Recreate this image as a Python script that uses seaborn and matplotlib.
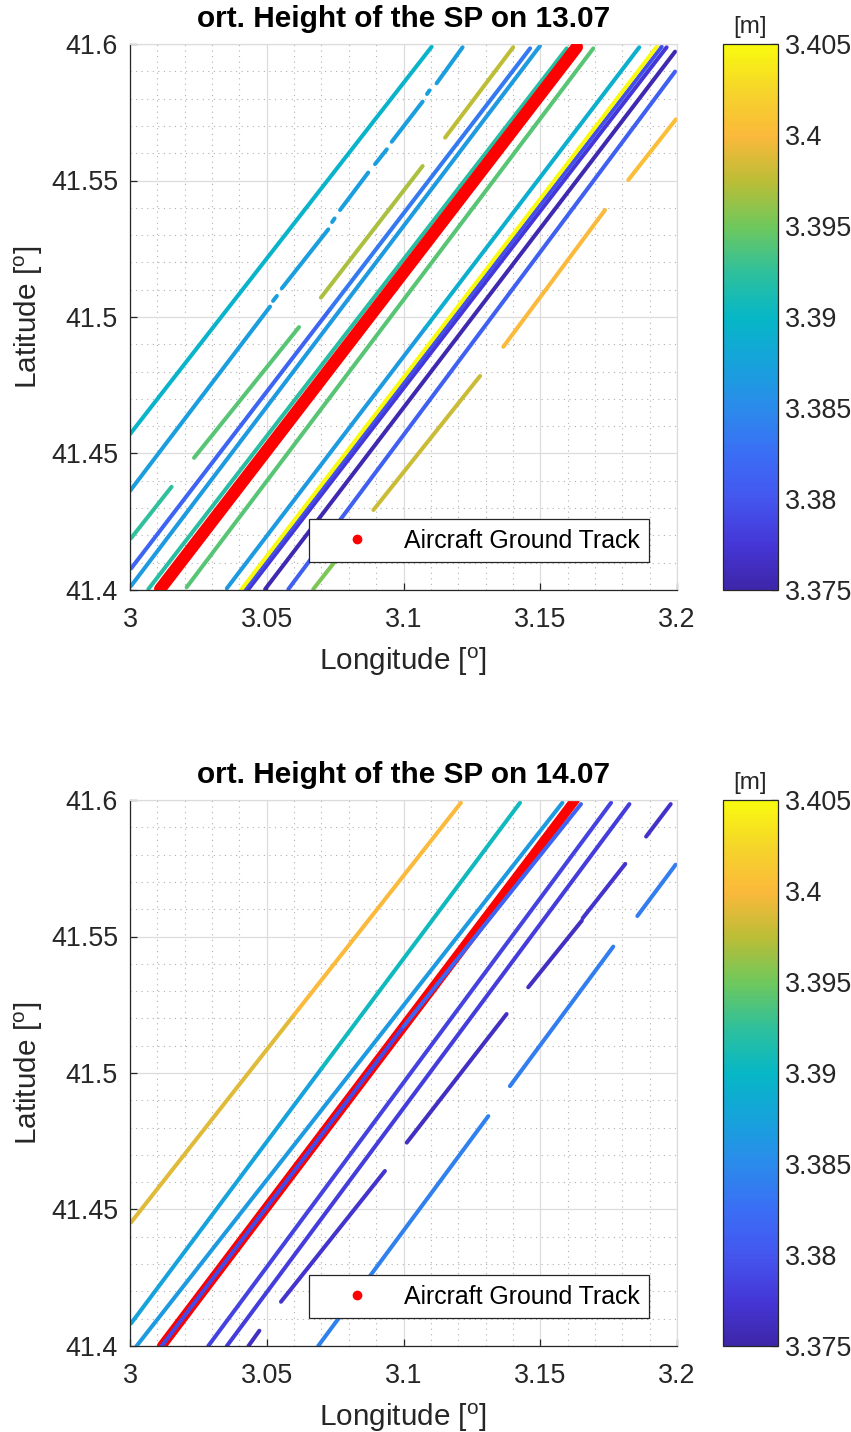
import numpy as np
import pandas as pd
import matplotlib
matplotlib.use("Agg")
import matplotlib.pyplot as plt
from matplotlib.colors import LinearSegmentedColormap, Normalize
from matplotlib.cm import ScalarMappable
from matplotlib.lines import Line2D
from matplotlib.ticker import MultipleLocator, FuncFormatter
import seaborn as sns

# ---------------------------------------------------------------- data
# Specular-point track pieces: start/end lon-lat and orthometric height [m]
d1_lon0 = [3.0000, 3.0000, 3.0523, 3.0555, 3.0739, 3.0768, 3.0896, 3.0957, 3.1086, 3.1121,
           3.0698, 3.1152, 3.0004, 3.0731, 3.0004, 3.0067, 3.0207, 3.0354, 3.1080, 3.0420,
           3.0408, 3.0433, 3.0494, 3.0579, 3.0670, 3.0890, 3.1365, 3.1822, 3.0004, 3.0234]
d1_lat0 = [41.4571, 41.4363, 41.5059, 41.5105, 41.5348, 41.5392, 41.5560, 41.5642, 41.5817, 41.5856,
           41.5071, 41.5657, 41.4079, 41.5028, 41.4015, 41.4003, 41.4010, 41.4006, 41.4960, 41.4003,
           41.4003, 41.4003, 41.4003, 41.4003, 41.4003, 41.4293, 41.4891, 41.5502, 41.4190, 41.4484]
d1_lon1 = [3.1103, 3.0512, 3.0537, 3.0725, 3.0748, 3.0871, 3.0939, 3.1070, 3.1095, 3.1216,
           3.1070, 3.1401, 3.0731, 3.1463, 3.1499, 3.1597, 3.1694, 3.1080, 3.1862, 3.1944,
           3.1926, 3.1962, 3.1993, 3.1993, 3.0768, 3.1280, 3.1737, 3.1996, 3.0152, 3.0618]
d1_lat1 = [41.5990, 41.5038, 41.5077, 41.5321, 41.5361, 41.5529, 41.5614, 41.5789, 41.5830, 41.5988,
           41.5553, 41.5988, 41.5028, 41.5984, 41.5993, 41.5984, 41.5984, 41.4960, 41.5988, 41.5990,
           41.5990, 41.5988, 41.5972, 41.5899, 41.4128, 41.4784, 41.5392, 41.5724, 41.4378, 41.4963]
d1_height = [3.3895, 3.3870, 3.3870, 3.3870, 3.3870, 3.3870, 3.3870, 3.3870, 3.3870, 3.3870,
             3.3970, 3.3975, 3.3815, 3.3835, 3.3865, 3.3920, 3.3940, 3.3865, 3.3890, 3.3795,
             3.4050, 3.3775, 3.3755, 3.3810, 3.3955, 3.3980, 3.4000, 3.4005, 3.3925, 3.3940]
d1_aircraft_lon = [3.0110, 3.1634]
d1_aircraft_lat = [41.4003, 41.5989]

d2_lon0 = [3.0004, 3.0600, 3.0004, 3.0700, 3.0024, 3.0116, 3.1000, 3.0286, 3.0354,
           3.0433, 3.0552, 3.1012, 3.1456, 3.1655, 3.1887, 3.1855, 3.1389, 3.0688]
d2_lat0 = [41.4453, 41.5213, 41.4083, 41.5016, 41.4000, 41.4000, 41.5170, 41.4000, 41.4000,
           41.4000, 41.4162, 41.4745, 41.5314, 41.5567, 41.5866, 41.5575, 41.4952, 41.4000]
d2_lon1 = [3.0600, 3.1210, 3.0700, 3.1426, 3.1581, 3.1000, 3.1649, 3.1759, 3.1826,
           3.0473, 3.0932, 3.1377, 3.1652, 3.1811, 3.1977, 3.1995, 3.1767, 3.1310]
d2_lat1 = [41.5213, 41.5990, 41.5016, 41.5990, 41.5990, 41.5170, 41.5985, 41.5990, 41.5985,
           41.4056, 41.4641, 41.5216, 41.5558, 41.5766, 41.5985, 41.5763, 41.5463, 41.4842]
d2_height = [3.3988, 3.4000, 3.3875, 3.3905, 3.3865, 3.3790, 3.3815, 3.3785, 3.3780,
             3.3765, 3.3770, 3.3765, 3.3765, 3.3770, 3.3768, 3.3838, 3.3838, 3.3842]
d2_aircraft_lon = [3.0116, 3.1627]
d2_aircraft_lat = [41.4000, 41.6000]

titles = ["ort. Height of the SP on 13.07", "ort. Height of the SP on 14.07"]
x_ticks = [3, 3.05, 3.1, 3.15, 3.2]
y_ticks = [41.4, 41.45, 41.5, 41.55, 41.6]
cbar_ticks = [3.375, 3.38, 3.385, 3.39, 3.395, 3.4, 3.405]
legend_label = "Aircraft Ground Track"

# ---------------------------------------------------------------- style
parula_stops = ["#3E26A8", "#4537D8", "#4456EF", "#3A6EF5", "#2B8BEB", "#16A3DB", "#06B7C6",
                "#2FC09C", "#6FC85C", "#BCBD36", "#FBB93B", "#F5D52A", "#F9FB0E"]
cmap = LinearSegmentedColormap.from_list("parula_like", parula_stops, N=256)
norm = Normalize(vmin=cbar_ticks[0], vmax=cbar_ticks[-1])

sns.set_theme(style="white")
plt.rcParams["font.family"] = ["Liberation Sans", "DejaVu Sans"]
plt.rcParams["mathtext.fontset"] = "custom"
plt.rcParams["mathtext.rm"] = "Liberation Sans"
plt.rcParams["mathtext.it"] = "Liberation Sans:italic"
plt.rcParams["mathtext.bf"] = "Liberation Sans:bold"

TXT = "#262626"
TICK_FS = 19.4
LABEL_FS = 21.4
fmt = FuncFormatter(lambda v, p: f"{v:g}")


def tracks_frame(lon0, lat0, lon1, lat1, h):
    n = len(h)
    return pd.DataFrame({
        "seg": np.repeat(np.arange(n), 2),
        "lon": np.column_stack([lon0, lon1]).ravel(),
        "lat": np.column_stack([lat0, lat1]).ravel(),
        "h": np.repeat(h, 2),
    })


def draw_panel(ax, cax, df, air_lon, air_lat, air_lw, air_z, title):
    n_before = len(ax.lines)
    sns.lineplot(data=df, x="lon", y="lat", hue="h", units="seg", estimator=None, sort=False,
                 palette=cmap, hue_norm=norm, legend=False, linewidth=2.9,
                 solid_capstyle="round", ax=ax)
    for ln in ax.lines[n_before:]:
        ln.set_zorder(2)
    sns.lineplot(x=air_lon, y=air_lat, color="red", linewidth=air_lw, sort=False,
                 estimator=None, solid_capstyle="round", ax=ax)
    ax.lines[-1].set_zorder(air_z)

    ax.set_xlim(x_ticks[0], x_ticks[-1])
    ax.set_ylim(y_ticks[0], y_ticks[-1])
    ax.set_xticks(x_ticks)
    ax.set_yticks(y_ticks)
    ax.xaxis.set_major_formatter(fmt)
    ax.yaxis.set_major_formatter(fmt)
    ax.xaxis.set_minor_locator(MultipleLocator(0.01))
    ax.yaxis.set_minor_locator(MultipleLocator(0.01))
    ax.set_axisbelow(True)
    ax.grid(which="major", color="#DCDCDC", lw=0.9, ls="-")
    ax.grid(which="minor", color="#B0B0B0", lw=0.8, ls=(0, (1, 4)))
    ax.tick_params(which="major", direction="in", length=5, width=0.9, colors=TXT,
                   labelsize=TICK_FS, top=False, right=False, bottom=True, left=True)
    ax.tick_params(axis="x", which="major", pad=12)
    ax.tick_params(axis="y", which="major", pad=8.6)
    ax.tick_params(which="minor", length=0)
    for side in ("left", "bottom"):
        ax.spines[side].set_color(TXT)
        ax.spines[side].set_linewidth(0.9)
    for side in ("top", "right"):
        ax.spines[side].set_color("#DCDCDC")
        ax.spines[side].set_linewidth(0.9)

    ax.set_title(title, fontsize=LABEL_FS, fontweight="bold", color="black", pad=12)
    ax.set_xlabel(r"Longitude [$^{\mathrm{o}}$]", fontsize=LABEL_FS, color=TXT, labelpad=9)
    ax.set_ylabel(r"Latitude [$^{\mathrm{o}}$]", fontsize=LABEL_FS, color=TXT, labelpad=4)

    handle = Line2D([], [], ls="none", marker="o", ms=6, color="red")
    leg = ax.legend([handle], [legend_label], loc="lower right", bbox_to_anchor=(0.9494, 0.0507),
                    borderaxespad=0, fontsize=17.9, frameon=True, fancybox=False, framealpha=1,
                    edgecolor=TXT, borderpad=0.39, handlelength=3.05, handletextpad=0.36)
    leg.get_frame().set_linewidth(0.9)
    for t in leg.get_texts():
        t.set_color("black")

    cb = plt.colorbar(ScalarMappable(norm=norm, cmap=cmap), cax=cax)
    cb.set_ticks(cbar_ticks)
    cb.ax.yaxis.set_major_formatter(fmt)
    cb.outline.set_edgecolor(TXT)
    cb.outline.set_linewidth(0.9)
    cax.tick_params(direction="in", length=5, width=0.9, colors=TXT, labelsize=TICK_FS, pad=5)
    cax.set_title("[m]", fontsize=17.5, color=TXT, pad=8)


W, H = 851, 1432
fig = plt.figure(figsize=(W / 100, H / 100), dpi=100)
ax_w, ax_h = 547 / W, 546 / H
ax1 = fig.add_axes([130 / W, 1 - 590 / H, ax_w, ax_h])
cax1 = fig.add_axes([723 / W, 1 - 590 / H, 55 / W, ax_h])
ax2 = fig.add_axes([130 / W, 1 - 1346 / H, ax_w, ax_h])
cax2 = fig.add_axes([723 / W, 1 - 1346 / H, 55 / W, ax_h])

df1 = tracks_frame(d1_lon0, d1_lat0, d1_lon1, d1_lat1, d1_height)
df2 = tracks_frame(d2_lon0, d2_lat0, d2_lon1, d2_lat1, d2_height)

draw_panel(ax1, cax1, df1, d1_aircraft_lon, d1_aircraft_lat, 8.8, 3, titles[0])
draw_panel(ax2, cax2, df2, d2_aircraft_lon, d2_aircraft_lat, 7.0, 1.9, titles[1])

fig.savefig("out.png", dpi=100, facecolor="white")
